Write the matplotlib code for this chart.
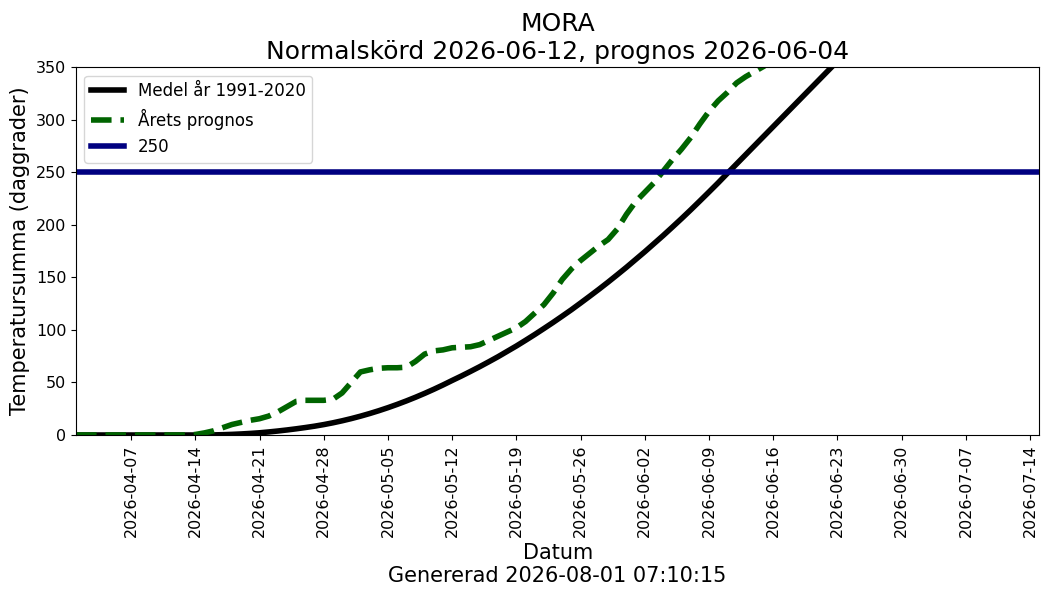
import pandas as pd
import matplotlib.pyplot as plt
import matplotlib.dates as mdates

# dygnsvärden från 2026-04-01
start_date = "2026-04-01"

medel = [
    0, 0, 0, 0, 0, 0, 0, 0, 0, 0, 0, 0, 0, 0, 0,
    0.1, 0.3, 0.6, 1.0, 1.5, 2.1, 2.9, 3.8, 4.8, 5.9, 7.1, 8.4, 9.9,
    11.6, 13.5, 15.6, 17.9, 20.4, 23.1, 26.0, 29.1, 32.4, 35.9, 39.6,
    43.5, 47.6, 51.9,
    56.1, 60.5, 65.0, 69.7, 74.5, 79.6, 84.7, 90.1, 95.6, 101.3,
    107.1, 113.1, 119.2, 125.6, 132.1, 138.7, 145.5, 152.5, 159.6, 167.0,
    174.4, 182.1, 189.8, 197.8, 205.9, 214.2, 222.7, 231.3, 240.0, 249.0,
    257.9, 266.8, 275.7, 284.6, 293.5, 302.4, 311.3, 320.2, 329.1, 338.0,
    346.9, 355.8,
    365.0, 374.2, 383.4, 392.6, 401.8, 411.0, 420.2, 429.4, 438.6, 447.8,
    457.0, 466.2, 475.4, 484.6, 493.8, 503.0, 512.2, 521.4, 530.6, 539.8,
    549.0, 558.2,
]

prognos = [
    0, 0, 0, 0, 0, 0, 0, 0, 0, 0, 0, 0, 0,
    0.5, 2, 4, 7, 10, 12, 14, 15.5, 18, 22, 27, 32, 33, 33, 33, 34,
    40, 50, 60, 62, 63.5, 64, 64, 64.5, 70, 77, 80, 81, 83, 83.5, 84,
    86, 90, 94, 98, 102, 108, 116, 124, 135, 148, 158, 166, 173, 180,
    186, 196, 210, 222, 231, 240, 251, 262, 272, 283, 296, 308, 318,
    326, 335, 341, 346, 351, 357, 363,
]

grans = 250

datum_medel = pd.date_range(start_date, periods=len(medel), freq="D")
datum_prognos = pd.date_range(start_date, periods=len(prognos), freq="D")

fig = plt.figure(figsize=(10.5, 6), dpi=100)
ax = fig.add_subplot(111)
fig.subplots_adjust(left=0.0724, right=0.9898, top=0.888, bottom=0.275)

ax.plot(datum_medel, medel, color="black", linewidth=4, label="Medel år 1991-2020")
ax.plot(datum_prognos, prognos, color="darkgreen", linestyle="--", linewidth=4,
        label="Årets prognos")
ax.axhline(grans, color="navy", linewidth=4, label=str(grans))

ax.set_xlim(pd.Timestamp("2026-04-01"), pd.Timestamp("2026-07-15"))
ax.set_ylim(0, 350)
ax.set_xticks(pd.date_range("2026-04-07", "2026-07-14", freq="7D"))
ax.xaxis.set_major_formatter(mdates.DateFormatter("%Y-%m-%d"))
ax.tick_params(axis="x", labelrotation=90, labelsize=11.5)
ax.tick_params(axis="y", labelsize=11.5)

ax.set_title("MORA\nNormalskörd 2026-06-12, prognos 2026-06-04", fontsize=18)
ax.set_xlabel("Datum\nGenererad 2026-08-01 07:10:15", fontsize=15)
ax.set_ylabel("Temperatursumma (daggrader)", fontsize=15)
ax.legend(loc="upper left", fontsize=12)

fig.savefig("out.png")
